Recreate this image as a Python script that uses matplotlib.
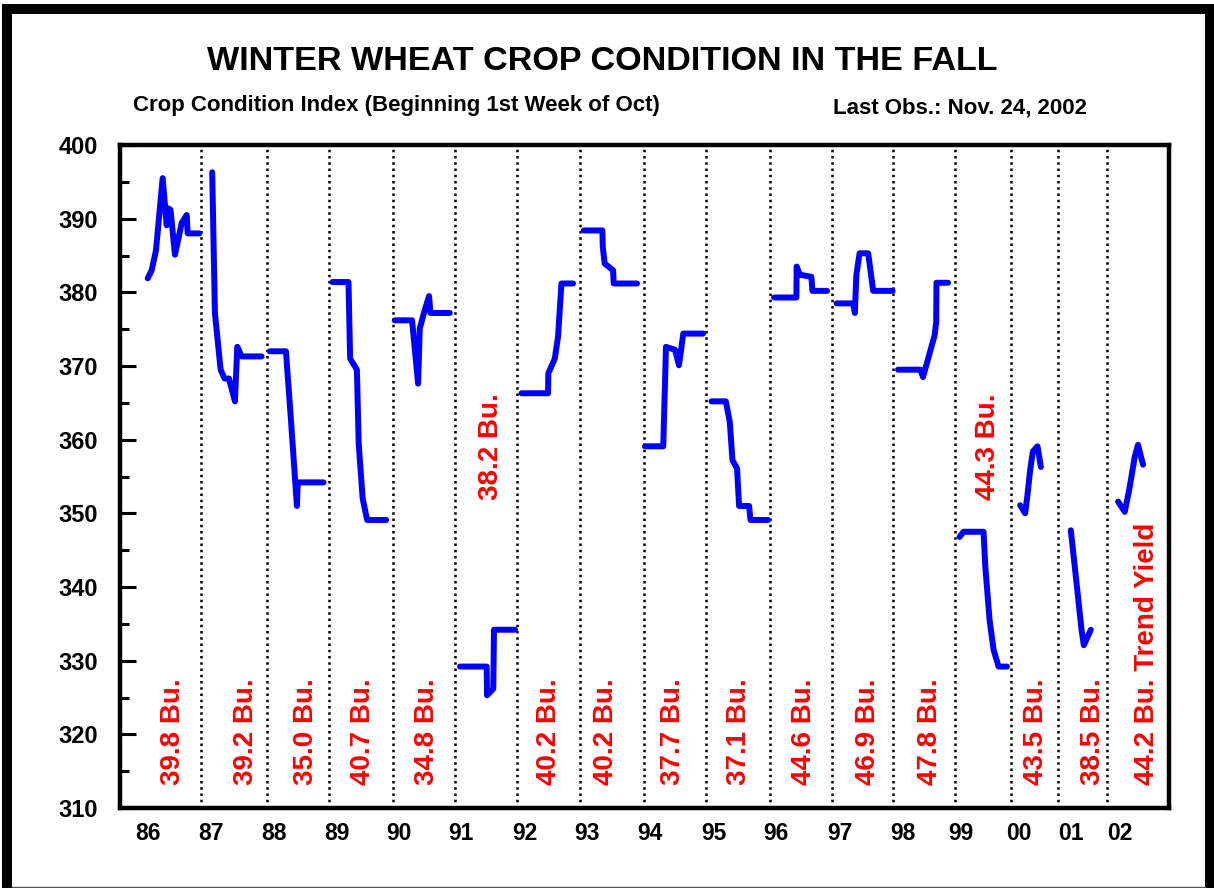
import matplotlib
matplotlib.use("Agg")
import matplotlib.pyplot as plt
from matplotlib.patches import Rectangle
from matplotlib.lines import Line2D

plt.rcParams["font.family"] = ["Liberation Sans", "DejaVu Sans"]
plt.rcParams["font.weight"] = "bold"

# crop years and the week index where each fall season starts
years = ["86", "87", "88", "89", "90", "91", "92", "93", "94",
         "95", "96", "97", "98", "99", "00", "01", "02"]
season_start = [2.6, 11.6, 21.1, 30.1, 39.3, 48.25, 57.2, 66.2, 75.45,
                84.4, 93.6, 102.4, 111.3, 120.2, 128.2, 135.0, 142.1]

# final yields (bu/acre), 2002 is trend yield
yields = ["39.8", "39.2", "35.0", "40.7", "34.8", "38.2", "40.2", "40.2", "37.7",
          "37.1", "44.6", "46.9", "47.8", "44.3", "43.5", "38.5", "44.2"]

# weeks since season start / crop condition index, one pair per year
wk_86 = [1.39, 1.96, 2.58, 3.54, 4.12, 4.35, 4.67, 5.31, 6.28, 7.0, 7.14, 8.81]
ci_86 = [381.9, 383.0, 385.7, 395.5, 389.1, 391.4, 391.2, 385.1, 389.4, 390.5, 388.0, 388.0]
wk_87 = [1.67, 2.06, 2.88, 3.45, 4.08, 4.94, 5.28, 5.9, 8.78]
ci_87 = [396.3, 377.2, 369.5, 368.3, 368.3, 365.2, 372.6, 371.3, 371.3]
wk_88 = [0.47, 2.78, 3.5, 4.36, 4.48, 8.2]
ci_88 = [372.0, 372.0, 362.7, 351.0, 354.2, 354.2]
wk_89 = [0.47, 2.78, 3.02, 3.99, 4.25, 4.82, 5.47, 8.2]
ci_89 = [381.4, 381.4, 371.0, 369.5, 359.5, 352.0, 349.1, 349.1]
wk_90 = [0.24, 2.73, 3.6, 3.84, 4.56, 5.18, 5.38, 8.16]
ci_90 = [376.2, 376.2, 367.6, 375.1, 377.6, 379.5, 377.2, 377.2]
wk_91 = [0.68, 4.52, 4.56, 5.47, 5.57, 8.59]
ci_91 = [329.2, 329.2, 325.3, 326.2, 334.2, 334.2]
wk_92 = [0.58, 4.4, 4.44, 5.37, 5.84, 6.33, 8.0]
ci_92 = [366.3, 366.3, 369.0, 371.0, 374.0, 381.2, 381.2]
wk_93 = [0.53, 3.22, 3.27, 3.55, 4.75, 4.85, 8.2]
ci_93 = [388.4, 388.4, 386.2, 383.9, 383.0, 381.2, 381.2]
wk_94 = [0.1, 2.73, 3.12, 4.42, 4.99, 5.61, 8.45]
ci_94 = [359.1, 359.1, 372.6, 372.2, 370.1, 374.4, 374.4]
wk_95 = [0.72, 2.78, 3.35, 3.74, 4.4, 4.69, 6.13, 6.33, 8.86]
ci_95 = [365.2, 365.2, 362.4, 357.2, 356.1, 351.0, 351.0, 349.1, 349.1]
wk_96 = [0.52, 3.74, 3.77, 4.22, 5.9, 6.04, 8.15]
ci_96 = [379.3, 379.3, 383.5, 382.4, 382.1, 380.2, 380.2]
wk_97 = [0.72, 3.11, 3.35, 3.57, 4.03, 5.27, 5.99, 8.78]
ci_97 = [378.5, 378.5, 377.2, 382.4, 385.3, 385.3, 380.2, 380.2]
wk_98 = [0.66, 3.89, 4.26, 5.94, 6.16, 6.19, 7.86]
ci_98 = [369.5, 369.5, 368.5, 374.2, 376.0, 381.3, 381.3]
wk_99 = [0.62, 1.19, 4.07, 4.32, 4.94, 5.51, 6.23, 7.44]
ci_99 = [346.8, 347.5, 347.5, 342.8, 335.5, 331.5, 329.2, 329.2]
wk_00 = [1.34, 2.06, 2.39, 2.78, 3.17, 3.83, 4.32]
ci_00 = [351.1, 350.0, 352.5, 355.9, 358.4, 359.1, 356.3]
wk_01 = [1.83, 2.76, 3.37, 3.7, 4.71]
ci_01 = [347.7, 339.6, 334.2, 332.1, 334.2]
wk_02 = [1.53, 2.49, 3.21, 3.93, 4.4, 5.12]
ci_02 = [351.6, 350.2, 353.6, 357.7, 359.3, 356.6]

weeks = [wk_86, wk_87, wk_88, wk_89, wk_90, wk_91, wk_92, wk_93, wk_94,
         wk_95, wk_96, wk_97, wk_98, wk_99, wk_00, wk_01, wk_02]
index = [ci_86, ci_87, ci_88, ci_89, ci_90, ci_91, ci_92, ci_93, ci_94,
         ci_95, ci_96, ci_97, ci_98, ci_99, ci_00, ci_01, ci_02]

# year label offsets from season start
tick_off = [1.4, 1.5, 1.05, 1.06, 0.85, 0.88, 1.05, 1.04, 0.86,
            0.99, 0.8, 1.22, 1.31, 0.81, 1.16, 1.85, 1.8]

# where the yield labels sit (week offset, bottom y)
lab_off = [5.0, 6.6, 5.7, 4.8, 4.9, 5.2, 4.5, 3.8, 4.1,
           4.7, 4.9, 5.2, 5.2, 4.7, 3.6, 5.0, 5.7]
lab_y = [313.1] * 17
lab_y[5] = 351.8
lab_y[13] = 351.8

W, H = 1214, 888
fig = plt.figure(figsize=(W / 100, H / 100), dpi=100)
ax = fig.add_axes([120 / W, 1 - 808 / H, (1169.3 - 120) / W, (808 - 145) / H])

for s, wk, ci in zip(season_start, weeks, index):
    ax.plot([s + w for w in wk], ci, color="#0000ff", lw=4.3,
            solid_capstyle="round", solid_joinstyle="round", zorder=3)

for s in season_start[1:]:
    ax.axvline(s, color="black", lw=1.8, ls=(0, (1, 1.5)), zorder=2)

for i, (s, y) in enumerate(zip(season_start, yields)):
    txt = f"{y} Bu." if i < len(years) - 1 else f"{y} Bu. Trend Yield"
    ax.text(s + lab_off[i], lab_y[i], txt, rotation=90, ha="center", va="bottom",
            color="#ff0000", fontsize=20, fontweight="bold", zorder=4)

ax.set_xlim(0, 151)
ax.set_ylim(310, 400)
ax.set_yticks(range(310, 401, 10))
ax.set_yticks(range(315, 400, 10), minor=True)
ax.set_xticks([s + o for s, o in zip(season_start, tick_off)])
ax.set_xticklabels(years)
ax.tick_params(axis="y", which="major", direction="in", length=11.5, width=2.2,
               labelsize=17, pad=16)
ax.tick_params(axis="y", which="minor", direction="in", length=6.5, width=2.2)
ax.tick_params(axis="x", length=0, labelsize=16.5, pad=10)
for lbl in ax.get_xticklabels() + ax.get_yticklabels():
    lbl.set_fontweight("bold")
for sp in ax.spines.values():
    sp.set_linewidth(3.2)

fig.text(0.496, 1 - 61 / H, "WINTER WHEAT CROP CONDITION IN THE FALL",
         ha="center", va="center", fontsize=24.6, fontweight="bold")
fig.text(133 / W, 1 - 106 / H, "Crop Condition Index (Beginning 1st Week of Oct)",
         ha="left", va="center", fontsize=16, fontweight="bold")
fig.text(833 / W, 1 - 108 / H, "Last Obs.: Nov. 24, 2002",
         ha="left", va="center", fontsize=16, fontweight="bold")

# outer frame
fig.add_artist(Rectangle((7 / W, -0.1), 1202.5 / W, 1.1 - 9 / H, fill=False,
                         ec="black", lw=7.2, transform=fig.transFigure, clip_on=False))
fig.add_artist(Line2D([12 / W, 1205 / W], [1.5 / H, 1.5 / H], color="#555555", lw=1,
                      transform=fig.transFigure))

fig.savefig("out.png", dpi=100)
